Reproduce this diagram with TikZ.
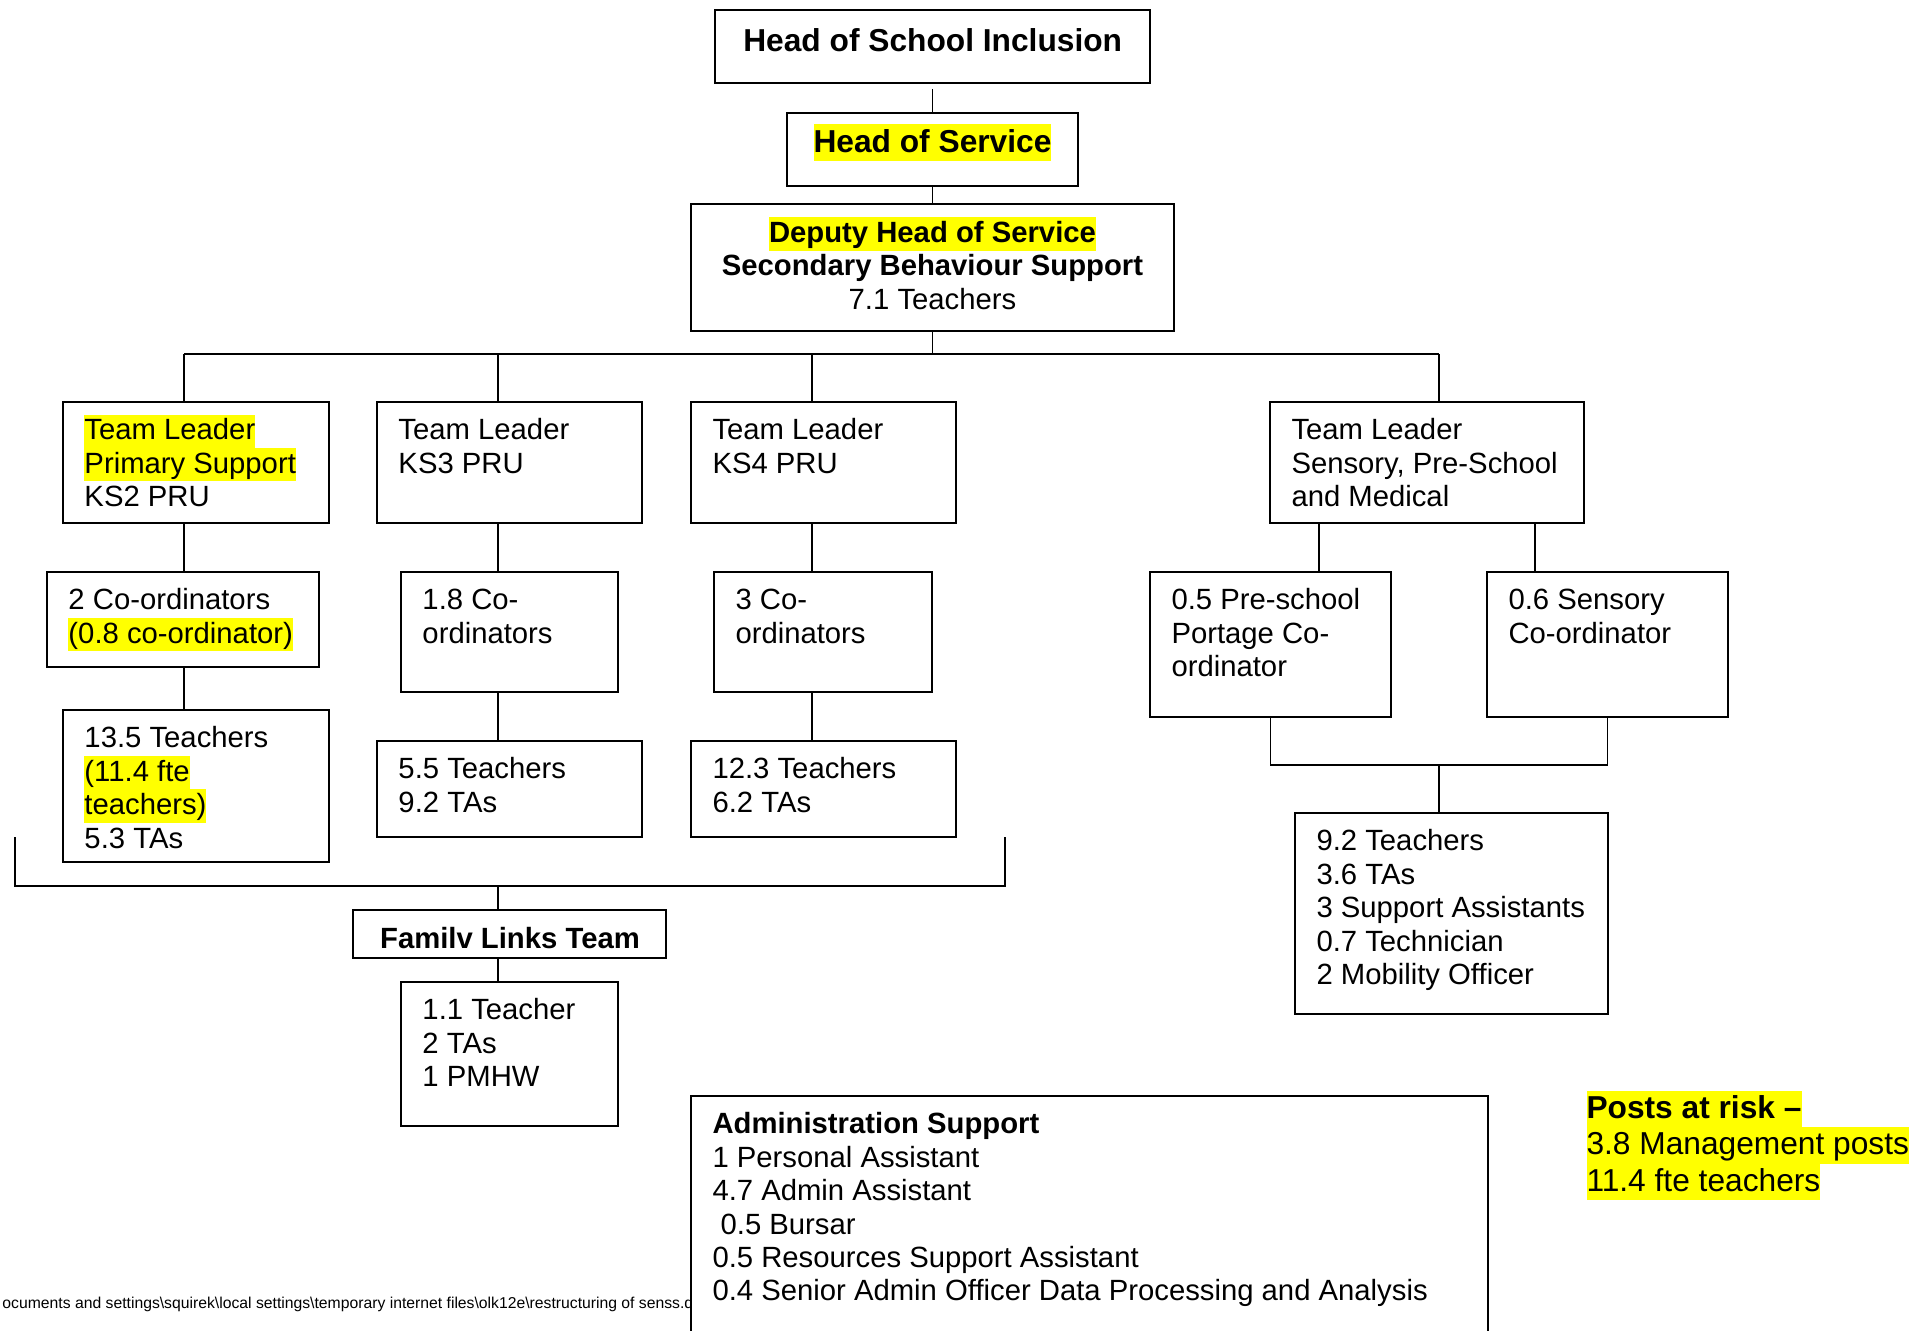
\documentclass[tikz,border=0pt]{standalone}
\usepackage{fontspec}
\setmainfont{Liberation Sans}
\usetikzlibrary{fit}
\definecolor{hly}{RGB}{255,255,0}
\newcommand\mystrut{\rule[-.24\baselineskip]{0pt}{\baselineskip}}
\newcommand\hlt[1]{{\setlength{\fboxsep}{0pt}\colorbox{hly}{\mystrut#1}}}
\newcommand\fsA{\fontsize{12}{13.7}\selectfont}
\newcommand\fsB{\fontsize{13}{15}\selectfont}
\newcommand\mkbox[5]{\path (#2,#3) coordinate (#1-a) (#4,#5) coordinate (#1-b);
  \node[box, fit=(#1-a)(#1-b)] (#1) {};}
\begin{document}
\begin{tikzpicture}[x=0.41pt,y=-0.41pt,
  box/.style={draw, line width=0.85pt, inner sep=0pt, fill=white},
  conn/.style={draw, line width=0.75pt},
  txt/.style={anchor=north west, inner sep=0pt, align=left, font=\fsA},
  ctxt/.style={anchor=base, inner sep=0pt}]
\useasboundingbox (0,0) rectangle (1928,1330);
\clip (0,0) rectangle (1928,1330);

% footer (partly covered by the admin box)
\node[anchor=base west, inner sep=0pt, font=\fontsize{6.45}{7}\selectfont] (foot) at (2,1308)
  {ocuments and settings\textbackslash squirek\textbackslash local settings\textbackslash temporary internet files\textbackslash olk12e\textbackslash restructuring of senss.d};

% boxes
\mkbox{hsi}{715}{10}{1150}{83}
\mkbox{hos}{787}{113}{1078}{186}
\mkbox{dep}{691}{204}{1174}{331}
\mkbox{tl1}{63}{402}{329}{523}
\mkbox{tl2}{377}{402}{642}{523}
\mkbox{tl3}{691}{402}{956}{523}
\mkbox{tl4}{1270}{402}{1584}{523}
\mkbox{co1}{47}{572}{319}{667}
\mkbox{co2}{401}{572}{618}{692}
\mkbox{co3}{714}{572}{932}{692}
\mkbox{coa}{1150}{572}{1391}{717}
\mkbox{cob}{1487}{572}{1728}{717}
\mkbox{te1}{63}{710}{329}{862}
\mkbox{te2}{377}{741}{642}{837}
\mkbox{te3}{691}{741}{956}{837}
\mkbox{te4}{1295}{813}{1608}{1014}
\mkbox{fl}{353}{910}{666}{958}
\mkbox{fl2}{401}{982}{618}{1126}
\mkbox{adm}{691}{1096}{1488}{1345}

% connector coordinates
\coordinate (b1) at (184,354);
\coordinate (b2) at (498,354);
\coordinate (b3) at (812,354);
\coordinate (b4) at (1439,354);
\coordinate (s1) at (1319,523);
\coordinate (s2) at (1535,523);
\coordinate (j) at (1439,765);
\coordinate (brL) at (15,837);
\coordinate (brR) at (1005,837);
\coordinate (brM) at (498,886);

% connectors
\draw[conn] ([yshift=-2pt]hsi.south) -- (hos.north);
\draw[conn] (hos.south) -- (dep.north);
\draw[conn] (dep.south) -- (dep.south |- b1);
\draw[conn] (b1) -- (b4);
\draw[conn] (b1) -- (b1 |- tl1.north);
\draw[conn] (b2) -- (b2 |- tl2.north);
\draw[conn] (b3) -- (b3 |- tl3.north);
\draw[conn] (b4) -- (b4 |- tl4.north);
\draw[conn] (tl1.south -| b1) -- (co1.north -| b1);
\draw[conn] (co1.south -| b1) -- (te1.north -| b1);
\draw[conn] (tl2.south -| b2) -- (co2.north -| b2);
\draw[conn] (co2.south -| b2) -- (te2.north -| b2);
\draw[conn] (tl3.south -| b3) -- (co3.north -| b3);
\draw[conn] (co3.south -| b3) -- (te3.north -| b3);
\draw[conn] (tl4.south -| s1) -- (coa.north -| s1);
\draw[conn] (tl4.south -| s2) -- (cob.north -| s2);
\draw[conn] (coa.south) |- (j) -| (cob.south);
\draw[conn] (j) -- (j |- te4.north);
\draw[conn] (brL) |- (brM) -| (brR);
\draw[conn] (brM) -- (brM |- fl.north);
\draw[conn] (fl.south -| brM) -- (fl2.north -| brM);

% texts
\node[ctxt, font=\fsB\bfseries] (hsit) at (932.7,51.7) {Head of School Inclusion};
\node[ctxt, font=\fsB\bfseries] (host) at (932.5,152) {\hlt{Head of Service}};
\node[anchor=north, inner sep=0pt, align=center, font=\fsA] (dept) at (932.5,216.6)
  {\hlt{\textbf{Deputy Head of Service}}\\ \textbf{Secondary Behaviour Support}\\ 7.1 Teachers};

\node[txt] (tl1t) at (84,414) {\hlt{Team Leader}\\ \hlt{Primary Support}\\ KS2 PRU};
\node[txt] (tl2t) at (398,414) {\mystrut Team Leader\\ KS3 PRU};
\node[txt] (tl3t) at (712,414) {\mystrut Team Leader\\ KS4 PRU};
\node[txt] (tl4t) at (1291,414) {\mystrut Team Leader\\ Sensory, Pre-School\\ and Medical};

\node[txt] (co1t) at (68,584) {\mystrut 2 Co-ordinators\\ \hlt{(0.8 co-ordinator)}};
\node[txt] (co2t) at (422,584) {\mystrut 1.8 Co-\\ ordinators};
\node[txt] (co3t) at (735,584) {\mystrut 3 Co-\\ ordinators};
\node[txt] (coat) at (1171,584) {\mystrut 0.5 Pre-school\\ Portage Co-\\ ordinator};
\node[txt] (cobt) at (1508,584) {\mystrut 0.6 Sensory\\ Co-ordinator};

\node[txt] (te1t) at (84,722) {\mystrut 13.5 Teachers\\ \hlt{(11.4 fte}\\ \hlt{teachers)}\\ 5.3 TAs};
\node[txt] (te2t) at (398,753) {\mystrut 5.5 Teachers\\ 9.2 TAs};
\node[txt] (te3t) at (712,753) {\mystrut 12.3 Teachers\\ 6.2 TAs};
\node[txt] (te4t) at (1316,825) {\mystrut 9.2 Teachers\\ 3.6 TAs\\ 3 Support Assistants\\ 0.7 Technician\\ 2 Mobility Officer};

\node[ctxt, font=\fsA\bfseries] (flt) at (510,948) {Familv Links Team};
\node[txt] (fl2t) at (422,994) {\mystrut 1.1 Teacher\\ 2 TAs\\ 1 PMHW};

\node[txt] (admt) at (712,1108) {\mystrut\textbf{Administration Support}\\ 1 Personal Assistant\\ 4.7 Admin Assistant\\ \ 0.5 Bursar\\ 0.5 Resources Support Assistant\\ 0.4 Senior Admin Officer Data Processing and Analysis};

\node[txt, font=\fsB] (risk) at (1586,1090) {\hlt{\textbf{Posts at risk \textendash}}\\ \hlt{3.8 Management posts}\\ \hlt{11.4 fte teachers}};
\end{tikzpicture}
\end{document}
